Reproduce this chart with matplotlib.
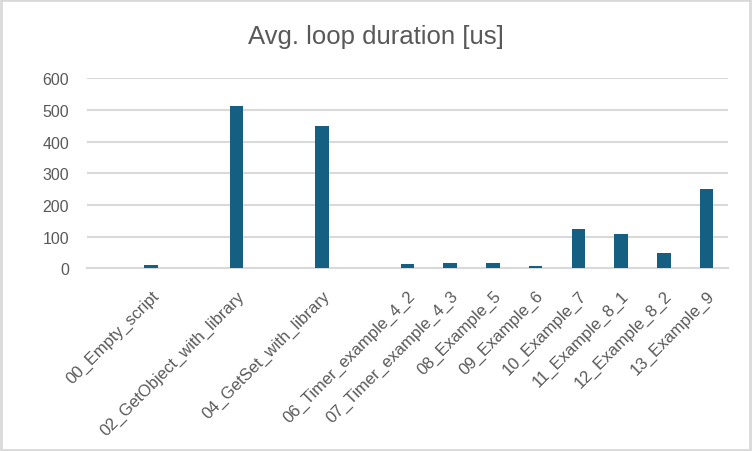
import matplotlib.pyplot as plt
from matplotlib.patches import Rectangle

# Data (blank slots are empty categories in the sheet)
categories = ['', '00_Empty_script', '', '02_GetObject_with_library', '',
              '04_GetSet_with_library', '', '06_Timer_example_4_2',
              '07_Timer_example_4_3', '08_Example_5', '09_Example_6',
              '10_Example_7', '11_Example_8_1', '12_Example_8_2', '13_Example_9']
durations = [0, 10, 0, 512, 0, 449, 0, 13, 17, 17, 7, 124, 108, 48, 250]

bar_color = '#156082'
text_color = '#595959'
grid_color = '#d9d9d9'

plt.rcParams['font.family'] = ['Liberation Sans', 'DejaVu Sans']

fig = plt.figure(figsize=(7.52, 4.52), dpi=100)
ax = fig.add_axes([0.1157, 0.4042, 0.8523, 0.4208])

x = list(range(len(categories)))
ax.bar(x, durations, width=0.32, color=bar_color, zorder=3)

ax.set_xlim(-0.5, len(categories) - 0.5)
ax.set_ylim(0, 600)
ax.set_yticks(range(0, 601, 100))
ax.yaxis.grid(True, color=grid_color, linewidth=1.5, zorder=0)
ax.tick_params(axis='y', length=0, labelsize=11.5, labelcolor=text_color, pad=13)

ax.set_xticks(x)
ax.set_xticklabels(categories, rotation=45, ha='right', va='top',
                   rotation_mode='anchor', fontsize=12, color=text_color)
ax.tick_params(axis='x', length=0, pad=14)

for side in ['top', 'right', 'left']:
    ax.spines[side].set_visible(False)
ax.spines['bottom'].set_color(grid_color)
ax.spines['bottom'].set_linewidth(1.5)

fig.text(0.5, 0.918, 'Avg. loop duration [us]', ha='center', va='center',
         fontsize=18.5, color=text_color)

# light border around the chart area, like the spreadsheet chart
fig.patches.append(Rectangle((0.001, 0.002), 0.997, 0.996, transform=fig.transFigure,
                             fill=False, edgecolor=grid_color, linewidth=2))

fig.savefig('out.png', dpi=100)
